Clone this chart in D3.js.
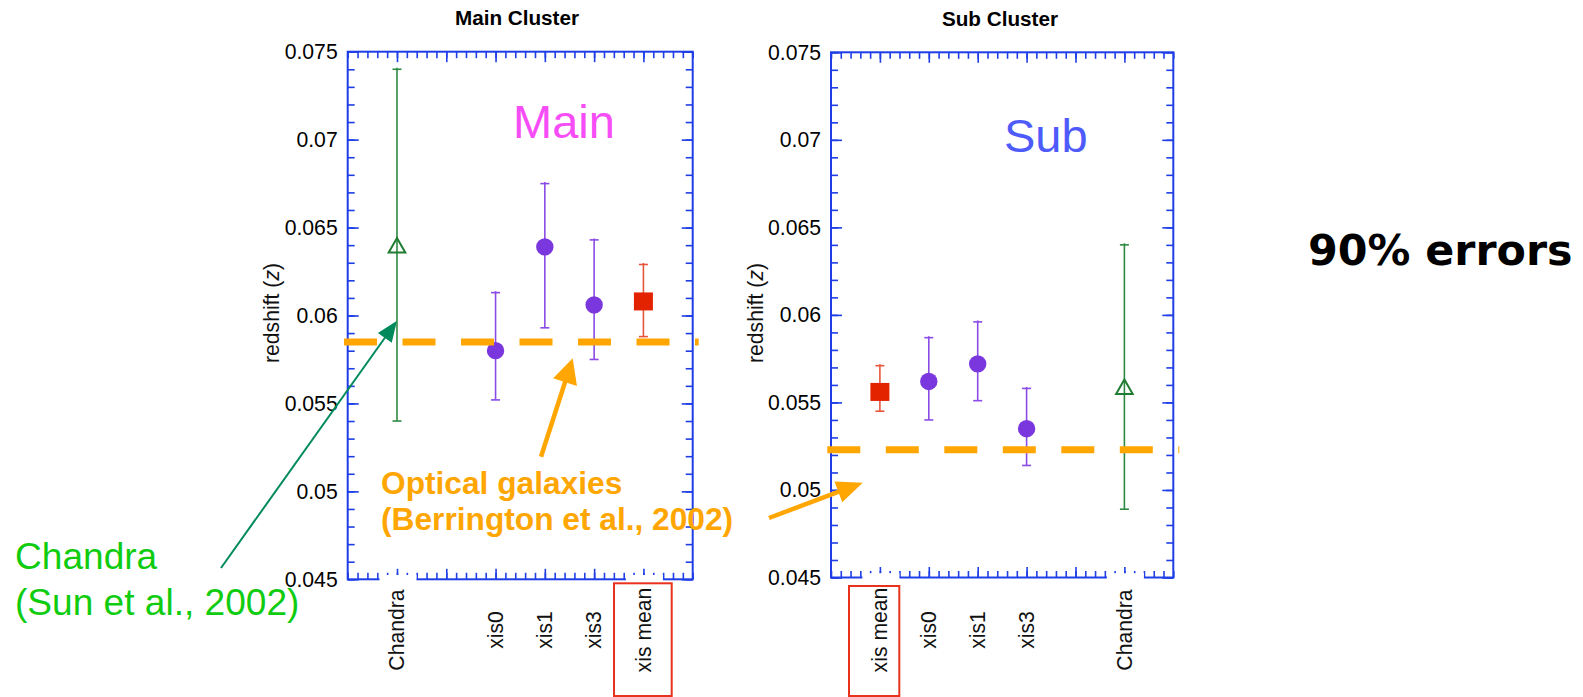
<!DOCTYPE html>
<html>
<head>
<meta charset="utf-8">
<script src="https://cdn.jsdelivr.net/npm/d3@7"></script>
<style>
  html, body { margin: 0; padding: 0; background: #ffffff; }
  svg { display: block; }
</style>
</head>
<body>
<svg id="chart" width="1583" height="697"></svg>
<script>
// ---- Redshift measurements (90% errors) ----
// Category slot on a 0..7 axis; empty slots keep the tick but carry no label.
const mainCategories = ["Chandra", "xis0", "xis1", "xis3", "xis mean"];
const mainSlots      = [1, 3, 4, 5, 6];
const mainValues     = [0.0639, 0.0580, 0.0639, 0.0606, 0.0608];
const mainLower      = [0.0540, 0.0552, 0.0593, 0.0575, 0.0588];
const mainUpper      = [0.0740, 0.0613, 0.0675, 0.0643, 0.0629];
const mainOptical    = 0.0585;

const subCategories  = ["xis mean", "xis0", "xis1", "xis3", "Chandra"];
const subSlots       = [1, 2, 3, 4, 6];
const subValues      = [0.0556, 0.0562, 0.0572, 0.0535, 0.0558];
const subLower       = [0.0545, 0.0540, 0.0551, 0.0514, 0.0489];
const subUpper       = [0.0571, 0.0587, 0.0596, 0.0558, 0.0640];
const subOptical     = 0.0523;

const yTickValues    = [0.045, 0.05, 0.055, 0.06, 0.065, 0.07, 0.075];
const yDomain        = [0.045, 0.075];
const slotDomain     = [0, 7];

const FONT = '"Liberation Sans", Arial, Helvetica, sans-serif';
const LABEL_SIZE = 21.2;
const AXIS_BLUE = "#1f3ee6";
const ORANGE = "#ffa602";

const styles = {
  circle:   { fill: "#7a37de", err: "#8a4be6" },
  square:   { fill: "#e32300", err: "#e8553d" },
  triangle: { fill: "#1f7c31", err: "#2e8a42" }
};
function markerKind(name) {
  if (name === "Chandra") return "triangle";
  if (name === "xis mean") return "square";
  return "circle";
}

const svg = d3.select("#chart");

const panels = [
  {
    title: "Main Cluster", titleX: 517, titleY: 25,
    tag: "Main", tagColor: "#f64df6", tagX: 513, tagY: 138,
    left: 347.7, right: 692.7, top: 51.7, bottom: 579.3,
    ylabelX: 279.3,
    categories: mainCategories, slots: mainSlots, values: mainValues,
    lower: mainLower, upper: mainUpper, optical: mainOptical,
    box: { x: 614, y: 583.3, w: 57.7 }
  },
  {
    title: "Sub Cluster", titleX: 1000, titleY: 25.7,
    tag: "Sub", tagColor: "#4e5bfa", tagX: 1004, tagY: 151.7,
    left: 831, right: 1173.3, top: 52.3, bottom: 577.5,
    ylabelX: 763.3,
    categories: subCategories, slots: subSlots, values: subValues,
    lower: subLower, upper: subUpper, optical: subOptical,
    box: { x: 849, y: 586, w: 50.3 }
  }
];

const scales = panels.map(drawPanel);

function styleTicks(sel) {
  sel.select(".domain").remove();
  sel.selectAll(".tick line").attr("stroke", AXIS_BLUE).attr("stroke-width", 1.6);
}

function drawPanel(p) {
  const g = svg.append("g");
  const x = d3.scaleLinear().domain(slotDomain).range([p.left, p.right]);
  const y = d3.scaleLinear().domain(yDomain).range([p.bottom, p.top]);

  const minorY = d3.range(45, 76).map(v => v / 1000);
  const minorX = d3.range(0, 36).map(i => i / 5);
  const majorX = d3.range(1, 7);

  // frame
  g.append("rect")
    .attr("x", p.left).attr("y", p.top)
    .attr("width", p.right - p.left).attr("height", p.bottom - p.top)
    .attr("fill", "none").attr("stroke", AXIS_BLUE).attr("stroke-width", 2);

  // minor ticks on all four sides, pointing inward
  const axes = g.append("g");
  axes.append("g").attr("transform", `translate(${p.left},0)`)
    .call(d3.axisLeft(y).tickValues(minorY).tickSize(-7).tickFormat("")).call(styleTicks);
  axes.append("g").attr("transform", `translate(${p.right},0)`)
    .call(d3.axisRight(y).tickValues(minorY).tickSize(-7).tickFormat("")).call(styleTicks);
  axes.append("g").attr("transform", `translate(0,${p.top})`)
    .call(d3.axisTop(x).tickValues(minorX).tickSize(-6.5).tickFormat("")).call(styleTicks);
  axes.append("g").attr("transform", `translate(0,${p.bottom})`)
    .call(d3.axisBottom(x).tickValues(minorX).tickSize(-6.5).tickFormat("")).call(styleTicks);

  // major ticks
  const yAxis = axes.append("g").attr("transform", `translate(${p.left},0)`)
    .call(d3.axisLeft(y).tickValues(yTickValues).tickSize(-11).tickPadding(10)
      .tickFormat(d => String(d)))
    .call(styleTicks);
  yAxis.selectAll("text")
    .attr("font-family", FONT).attr("font-size", LABEL_SIZE).attr("fill", "#000");
  axes.append("g").attr("transform", `translate(${p.right},0)`)
    .call(d3.axisRight(y).tickValues(yTickValues).tickSize(-11).tickFormat("")).call(styleTicks);
  axes.append("g").attr("transform", `translate(0,${p.top})`)
    .call(d3.axisTop(x).tickValues(majorX).tickSize(-10.5).tickFormat("")).call(styleTicks);
  axes.append("g").attr("transform", `translate(0,${p.bottom})`)
    .call(d3.axisBottom(x).tickValues(majorX).tickSize(-10.5).tickFormat("")).call(styleTicks);

  // long category labels sit on an opaque backing that hides the bottom axis line
  g.selectAll("rect.backing")
    .data(p.categories.map((c, i) => ({ c, s: p.slots[i] })).filter(d => d.c.length > 4))
    .join("rect").attr("class", "backing")
    .attr("x", d => x(d.s) - 17.5).attr("y", p.bottom - 4.3)
    .attr("width", 37).attr("height", 8)
    .attr("fill", "#ffffff");

  // category labels
  g.selectAll("text.cat")
    .data(p.categories)
    .join("text").attr("class", "cat")
    .attr("transform", (d, i) => `translate(${x(p.slots[i]) + 7.3},630) rotate(-90)`)
    .attr("text-anchor", "middle")
    .attr("font-family", FONT).attr("font-size", LABEL_SIZE).attr("fill", "#111")
    .text(d => d);

  // titles and axis label
  g.append("text")
    .attr("x", p.titleX).attr("y", p.titleY)
    .attr("text-anchor", "middle")
    .attr("font-family", FONT).attr("font-size", 20.7).attr("font-weight", "bold")
    .text(p.title);

  const yl = g.append("text")
    .attr("transform", `translate(${p.ylabelX},313) rotate(-90)`)
    .attr("text-anchor", "middle")
    .attr("font-family", FONT).attr("font-size", LABEL_SIZE).attr("fill", "#111");
  yl.append("tspan").text("redshift (");
  yl.append("tspan").attr("font-style", "italic").text("z");
  yl.append("tspan").text(")");

  g.append("text")
    .attr("x", p.tagX).attr("y", p.tagY)
    .attr("font-family", FONT).attr("font-size", 47).attr("fill", p.tagColor)
    .text(p.tag);

  // error bars
  const rows = p.categories.map((c, i) => ({
    c, s: p.slots[i], v: p.values[i], lo: p.lower[i], hi: p.upper[i], kind: markerKind(c)
  }));
  const eb = g.append("g");
  eb.selectAll("line.err").data(rows).join("line").attr("class", "err")
    .attr("x1", d => x(d.s)).attr("x2", d => x(d.s))
    .attr("y1", d => y(d.lo)).attr("y2", d => y(d.hi) - 1.5)
    .attr("stroke", d => styles[d.kind].err).attr("stroke-width", 1.6);
  ["lo", "hi"].forEach(k => {
    eb.selectAll("line.cap-" + k).data(rows).join("line").attr("class", "cap-" + k)
      .attr("x1", d => x(d.s) - 4.5).attr("x2", d => x(d.s) + 4.5)
      .attr("y1", d => y(d[k])).attr("y2", d => y(d[k]))
      .attr("stroke", d => styles[d.kind].err).attr("stroke-width", 1.6);
  });

  // markers
  const mk = g.append("g");
  mk.selectAll("circle").data(rows.filter(d => d.kind === "circle")).join("circle")
    .attr("cx", d => x(d.s)).attr("cy", d => y(d.v)).attr("r", 8.7)
    .attr("fill", styles.circle.fill);
  mk.selectAll("rect").data(rows.filter(d => d.kind === "square")).join("rect")
    .attr("x", d => x(d.s) - 9.5).attr("y", d => y(d.v) - 9)
    .attr("width", 19).attr("height", 18)
    .attr("fill", styles.square.fill);
  mk.selectAll("path").data(rows.filter(d => d.kind === "triangle")).join("path")
    .attr("d", d => {
      const cx = x(d.s), cy = y(d.v);
      return `M${cx},${cy - 9}L${cx + 8.3},${cy + 5.5}L${cx - 8.3},${cy + 5.5}Z`;
    })
    .attr("fill", "none").attr("stroke", styles.triangle.fill).attr("stroke-width", 2);

  // optical galaxies redshift
  g.append("line")
    .attr("x1", p.left - 3.7).attr("x2", p.right + 6)
    .attr("y1", y(p.optical)).attr("y2", y(p.optical))
    .attr("stroke", ORANGE).attr("stroke-width", 7)
    .attr("stroke-dasharray", "33 25.5");

  // highlighted label box
  g.append("rect")
    .attr("x", p.box.x).attr("y", p.box.y)
    .attr("width", p.box.w).attr("height", 696 - p.box.y)
    .attr("fill", "none").attr("stroke", "#e8321e").attr("stroke-width", 2);

  return { x, y };
}

// ---- annotations ----
function arrow(x1, y1, x2, y2, color, width, headLen, headHalf) {
  const dx = x2 - x1, dy = y2 - y1, len = Math.hypot(dx, dy);
  const ux = dx / len, uy = dy / len;
  const bx = x2 - ux * headLen, by = y2 - uy * headLen;
  svg.append("line")
    .attr("x1", x1).attr("y1", y1).attr("x2", bx + ux * 2).attr("y2", by + uy * 2)
    .attr("stroke", color).attr("stroke-width", width);
  svg.append("path")
    .attr("d", `M${x2},${y2}L${bx - uy * headHalf},${by + ux * headHalf}L${bx + uy * headHalf},${by - ux * headHalf}Z`)
    .attr("fill", color);
}

const main = scales[0];
arrow(221, 568, main.x(1), main.y(0.0597), "#008a5c", 2, 21, 8.5);
arrow(541, 456.7, 572.7, 358.3, ORANGE, 4.5, 25, 12.5);
arrow(769, 518, 862.7, 482.7, ORANGE, 4.5, 26, 11);

function textBlock(x, y, lines, size, color, weight, lineGap) {
  const t = svg.append("text")
    .attr("font-family", FONT).attr("font-size", size)
    .attr("font-weight", weight).attr("fill", color);
  lines.forEach((l, i) => t.append("tspan").attr("x", x).attr("y", y + i * lineGap).text(l));
}

textBlock(381, 494, ["Optical galaxies", "(Berrington et al., 2002)"], 31.7, ORANGE, "bold", 36);
textBlock(15, 569.3, ["Chandra", "(Sun et al., 2002)"], 37.1, "#10cc10", "normal", 45.5);

svg.append("text")
  .attr("x", 1308).attr("y", 265)
  .attr("font-family", '"Comic Sans MS", "DejaVu Sans", sans-serif')
  .attr("font-size", 42.8).attr("font-weight", "bold").attr("fill", "#000")
  .text("90% errors");
</script>
</body>
</html>
